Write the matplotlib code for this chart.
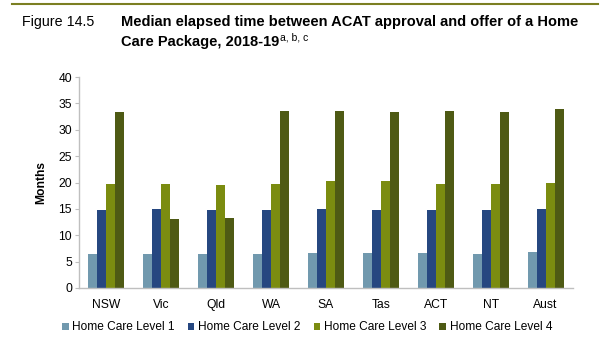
import matplotlib
matplotlib.use("Agg")
import matplotlib.pyplot as plt
import numpy as np
from matplotlib.lines import Line2D

plt.rcParams['font.family'] = ['Liberation Sans', 'DejaVu Sans']

categories = ["NSW", "Vic", "Qld", "WA", "SA", "Tas", "ACT", "NT", "Aust"]
series_names = ["Home Care Level 1", "Home Care Level 2", "Home Care Level 3", "Home Care Level 4"]
level1 = [6.5, 6.5, 6.5, 6.5, 6.7, 6.7, 6.7, 6.5, 6.9]
level2 = [14.8, 15.0, 14.8, 14.8, 15.0, 14.8, 14.8, 14.8, 15.0]
level3 = [19.8, 19.8, 19.6, 19.8, 20.2, 20.2, 19.8, 19.8, 20.0]
level4 = [33.4, 13.1, 13.3, 33.6, 33.6, 33.4, 33.6, 33.4, 34.0]
colors = ["#7199ae", "#264780", "#7b8c10", "#4e5a14"]
y_ticks = [0, 5, 10, 15, 20, 25, 30, 35, 40]

fig = plt.figure(figsize=(6.15, 3.4), dpi=100)
ax = fig.add_axes([79/615, 1-288/340, (573-79)/615, (288-77)/340])

x = np.arange(len(categories))
w = 0.164
data = [level1, level2, level3, level4]
for i, (vals, c, name) in enumerate(zip(data, colors, series_names)):
    ax.bar(x + (i - 1.5) * w, vals, width=w, color=c, label=name, linewidth=0)

ax.set_xlim(-0.5, len(categories) - 0.5)
ax.set_ylim(0, 40)
ax.set_yticks(y_ticks)
ax.set_xticks(x)
ax.set_xticklabels(categories, fontsize=8.7)
ax.tick_params(axis='y', labelsize=8.7, length=3, color='#bfbfbf', pad=2)
ax.tick_params(axis='x', length=0, pad=8)
for s in ['top', 'right']:
    ax.spines[s].set_visible(False)
for s in ['left', 'bottom']:
    ax.spines[s].set_color('#bfbfbf')
    ax.spines[s].set_linewidth(1)
ax.set_ylabel("Months", fontsize=8.7, fontweight='bold', labelpad=8)

leg = ax.legend(loc='center', bbox_to_anchor=(307/615, 1 - 327.5/340),
                bbox_transform=fig.transFigure, ncol=4, frameon=False,
                fontsize=8.6, handlelength=0.55, handleheight=0.55,
                handletextpad=0.3, columnspacing=1.1)

# top rule
fig.add_artist(Line2D([12/615, 598/615], [1-4/340, 1-4/340], color='#7b7f22', linewidth=1.5))

fig.text(22/615, 1-22/340, "Figure 14.5", fontsize=10.3, va='center', ha='left')
fig.text(121/615, 1-22/340, "Median elapsed time between ACAT approval and offer of a Home",
         fontsize=10.5, fontweight='bold', va='center', ha='left')
t2 = fig.text(121/615, 1-42/340, "Care Package, 2018-19", fontsize=10.5, fontweight='bold',
              va='center', ha='left')
fig.canvas.draw()
bb = t2.get_window_extent()
fig.text(bb.x1 / fig.bbox.width + 0.001, 1-38/340, "a, b, c", fontsize=7.5, va='center', ha='left')

fig.savefig("out.png", dpi=100)
